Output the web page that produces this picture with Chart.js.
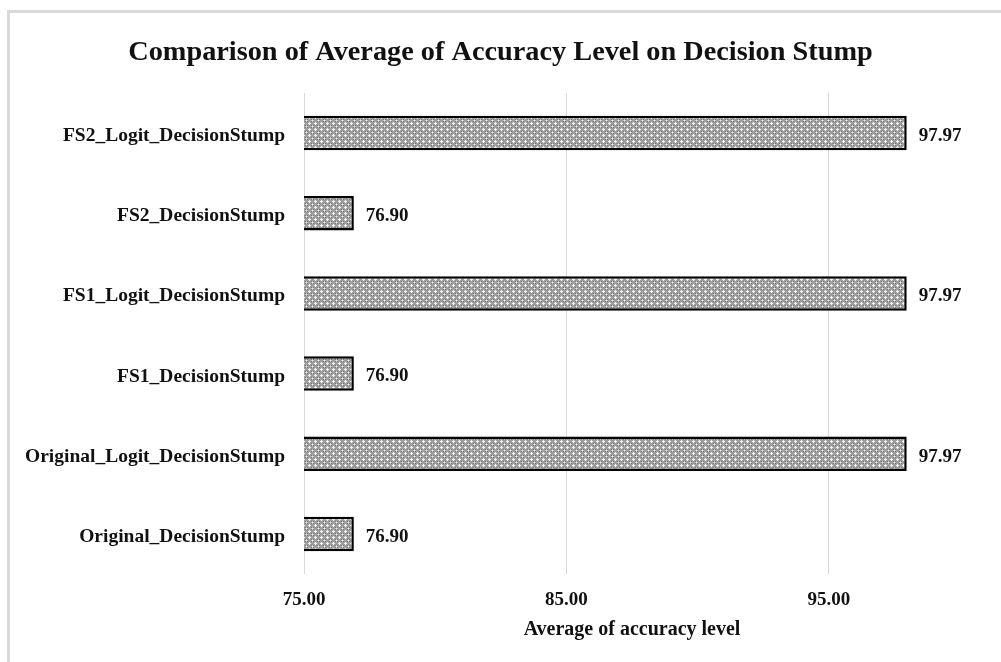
<!DOCTYPE html>
<html>
<head>
<meta charset="utf-8">
<script src="https://cdn.jsdelivr.net/npm/chart.js@4/dist/chart.umd.min.js"></script>
<style>
  html, body { margin: 0; padding: 0; background: #ffffff; overflow: hidden; }
  #wrap { position: relative; width: 1001px; height: 662px; }
  #frame { position: absolute; left: 7px; top: 10px; width: 1100px; height: 800px;
           border: 3px solid #d9d9d9; box-sizing: border-box; }
  #chart { position: absolute; left: 0; top: 0; }
</style>
</head>
<body>
<div id="wrap">
  <div id="frame"></div>
  <canvas id="chart" width="1001" height="662"></canvas>
</div>
<script>
// Categories, listed top to bottom
const categories = [
  'FS2_Logit_DecisionStump',
  'FS2_DecisionStump',
  'FS1_Logit_DecisionStump',
  'FS1_DecisionStump',
  'Original_Logit_DecisionStump',
  'Original_DecisionStump'
];
// Average accuracy level per model
const accuracy = [97.97, 76.90, 97.97, 76.90, 97.97, 76.90];
// Tick values on the accuracy axis
const xTicks = [75, 85, 95];
const xMin = 75;
const xMax = 100;

const chartTitle = 'Comparison of Average of Accuracy Level on Decision Stump';
const axisTitle = 'Average of accuracy level';

const FONT = '"Liberation Serif", "Times New Roman", serif';
const TEXT = '#111111';

// Small stippled tile used as the bar fill
function makePattern() {
  const t = document.createElement('canvas');
  t.width = 6; t.height = 6;
  const g = t.getContext('2d');
  g.fillStyle = '#9e9e9e';
  g.fillRect(0, 0, 6, 6);
  g.fillStyle = '#f2f2f2';
  [[3,2],[2,3],[3,3],[4,3],[3,4],[0,0]].forEach(([x, y]) => g.fillRect(x, y, 1, 1));
  g.fillStyle = '#c4c4c4';
  [[1,0],[0,1],[5,0],[0,5]].forEach(([x, y]) => g.fillRect(x, y, 1, 1));
  g.fillStyle = '#737373';
  [[1,1],[5,5],[1,5],[5,1]].forEach(([x, y]) => g.fillRect(x, y, 1, 1));
  return g.createPattern(t, 'repeat');
}

// Chart heading, centred on the full canvas width
const heading = {
  id: 'heading',
  afterDraw(chart) {
    const c = chart.ctx;
    c.save();
    c.font = 'bold 28.3px ' + FONT;
    c.fillStyle = TEXT;
    c.textAlign = 'center';
    c.textBaseline = 'middle';
    c.fillText(chartTitle, chart.width / 2, 53);
    c.restore();
  }
};

// Writes each bar's value just past its end
const valueLabels = {
  id: 'valueLabels',
  afterDatasetsDraw(chart) {
    const c = chart.ctx;
    const meta = chart.getDatasetMeta(0);
    c.save();
    c.font = 'bold 19px ' + FONT;
    c.fillStyle = TEXT;
    c.textAlign = 'left';
    c.textBaseline = 'middle';
    meta.data.forEach((bar, i) => {
      c.fillText(accuracy[i].toFixed(2), bar.x + 12, bar.y + 3);
    });
    c.restore();
  }
};

const ctx = document.getElementById('chart').getContext('2d');
new Chart(ctx, {
  type: 'bar',
  data: {
    labels: categories,
    datasets: [{
      data: accuracy,
      backgroundColor: makePattern(),
      borderColor: '#000000',
      borderWidth: 2.5,
      borderSkipped: 'start',
      categoryPercentage: 1,
      barPercentage: 0.43
    }]
  },
  options: {
    indexAxis: 'y',
    responsive: false,
    animation: false,
    layout: { padding: { left: 0, right: 41, top: 93, bottom: 0 } },
    plugins: {
      legend: { display: false },
      tooltip: { enabled: false },
      title: { display: false }
    },
    scales: {
      x: {
        type: 'linear',
        min: xMin,
        max: xMax,
        afterBuildTicks(scale) { scale.ticks = xTicks.map(v => ({ value: v })); },
        afterFit(scale) { scale.height = 88; },
        grid: { color: '#d9d9d9', lineWidth: 1, drawTicks: false },
        border: { display: false },
        ticks: {
          padding: 15,
          color: TEXT,
          font: { family: FONT, size: 19, weight: 'bold' },
          callback: v => Number(v).toFixed(2)
        },
        title: {
          display: true,
          text: axisTitle,
          color: TEXT,
          font: { family: FONT, size: 20, weight: 'bold', lineHeight: 1.2 },
          padding: { top: 0, bottom: 20 }
        }
      },
      y: {
        afterFit(scale) { scale.width = 304; },
        grid: { display: false, drawTicks: false },
        border: { display: false },
        ticks: {
          padding: 19,
          labelOffset: 3,
          color: TEXT,
          font: { family: FONT, size: 19.5, weight: 'bold' }
        }
      }
    }
  },
  plugins: [valueLabels, heading]
});
</script>
</body>
</html>
